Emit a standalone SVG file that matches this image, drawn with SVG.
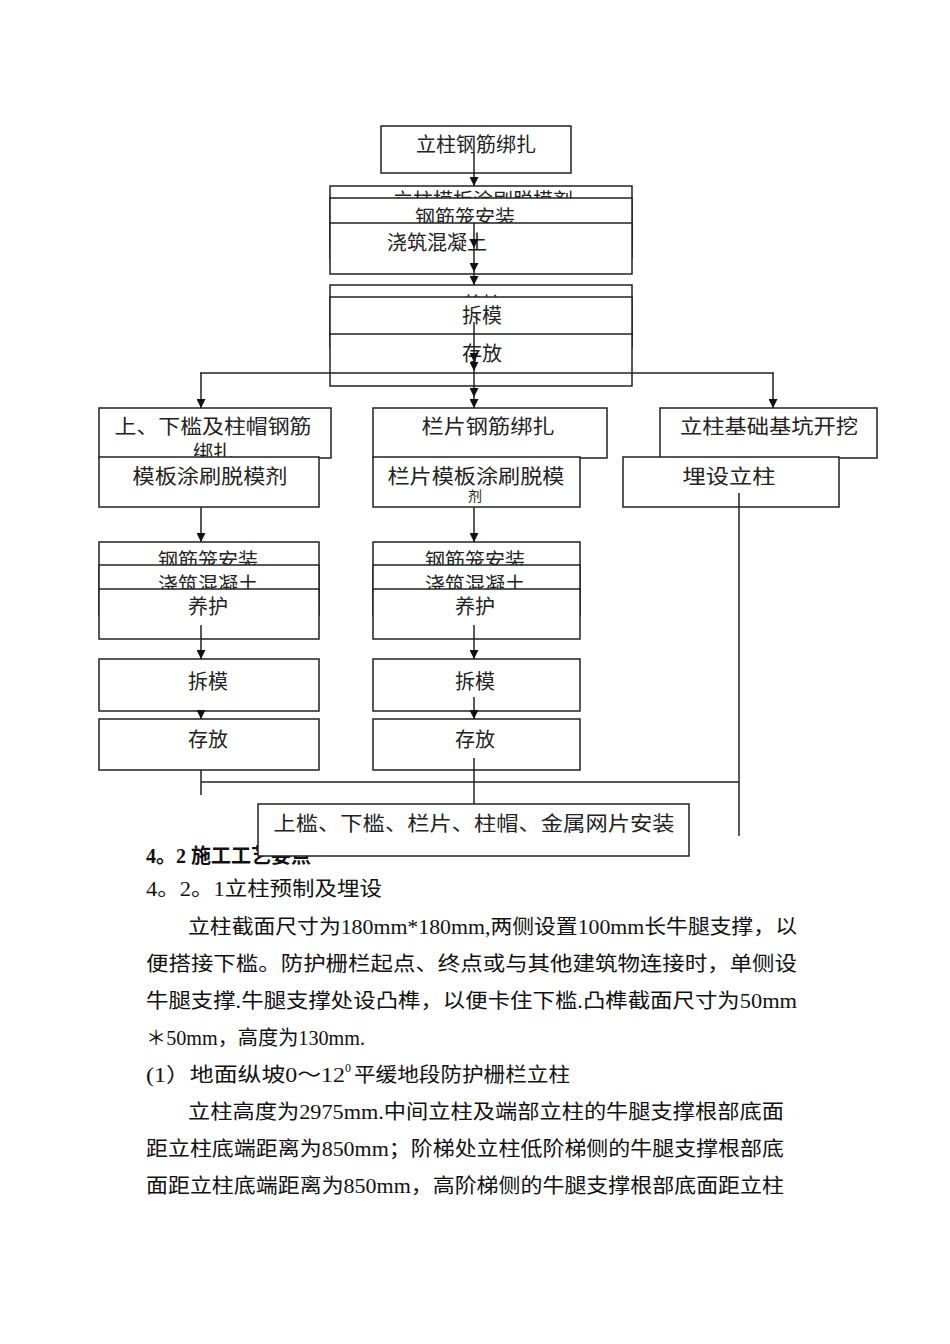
<svg xmlns="http://www.w3.org/2000/svg" width="950" height="1344" viewBox="0 0 950 1344">
<style>
.box{fill:#fff;stroke:#222;stroke-width:1.5}
.t{font-family:"Noto Sans CJK SC","Liberation Sans",sans-serif;font-size:20px;fill:#222;text-anchor:middle}
.ts{font-family:"Noto Sans CJK SC","Liberation Sans",sans-serif;font-size:14px;fill:#222;text-anchor:middle}
.b{font-family:"Liberation Serif","Noto Sans CJK SC",serif;font-size:20px;fill:#111}
.h{font-family:"Liberation Serif","Noto Sans CJK SC",serif;font-size:20px;font-weight:bold;fill:#111}
.c{fill:none;stroke:#222;stroke-width:1.5}
</style>
<defs>
<marker id="ah" viewBox="0 0 10 10" refX="10" refY="5" markerWidth="9" markerHeight="9" markerUnits="userSpaceOnUse" orient="auto">
<path d="M0,0 L10,5 L0,10 z" fill="#111"/>
</marker>
</defs>

<text class="h" x="146" y="863">4。2 施工工艺要点</text>

<g id="n1"><rect class="box" x="381" y="126" width="190" height="47"/><text class="t" x="476" y="152">立柱钢筋绑扎</text></g>
<g id="n2"><rect class="box" x="330" y="186" width="302" height="60"/><text class="t" x="483" y="208">立柱模板涂刷脱模剂</text></g>
<g id="n3"><rect class="box" x="330" y="198" width="302" height="60"/><text class="t" x="465" y="225">钢筋笼安装</text></g>
<g id="n4"><rect class="box" x="330" y="223" width="302" height="51"/><text class="t" x="437" y="250">浇筑混凝土</text></g>

<g id="n5"><rect class="box" x="330" y="285" width="302" height="50"/><text class="t" x="482" y="312">养护</text></g>
<g id="n6"><rect class="box" x="330" y="297" width="302" height="50"/><text class="t" x="482" y="323">拆模</text></g>
<g id="n7"><rect class="box" x="330" y="334" width="302" height="52"/><text class="t" x="482" y="361">存放</text></g>

<g id="n8"><rect class="box" x="99" y="408" width="232" height="50"/><text class="t" x="213" y="434" textLength="197" lengthAdjust="spacingAndGlyphs">上、下槛及柱帽钢筋</text><text class="t" x="213" y="460">绑扎</text></g>
<g id="n9"><rect class="box" x="99" y="457" width="220" height="50"/><text class="t" x="210" y="484" textLength="155" lengthAdjust="spacingAndGlyphs">模板涂刷脱模剂</text></g>
<g id="n10"><rect class="box" x="373" y="408" width="234" height="50"/><text class="t" x="488" y="434" textLength="133" lengthAdjust="spacingAndGlyphs">栏片钢筋绑扎</text></g>
<g id="n11"><rect class="box" x="373" y="457" width="207" height="50"/><text class="t" x="476" y="484" textLength="177" lengthAdjust="spacingAndGlyphs">栏片模板涂刷脱模</text><text class="ts" x="475" y="501">剂</text></g>
<g id="n12"><rect class="box" x="660" y="408" width="217" height="50"/><text class="t" x="769" y="434" textLength="178" lengthAdjust="spacingAndGlyphs">立柱基础基坑开挖</text></g>
<g id="n13"><rect class="box" x="623" y="457" width="216" height="50"/><text class="t" x="729" y="484" textLength="93" lengthAdjust="spacingAndGlyphs">埋设立柱</text></g>

<g id="n14"><rect class="box" x="99" y="542" width="220" height="50"/><text class="t" x="208" y="568">钢筋笼安装</text></g>
<g id="n15"><rect class="box" x="99" y="565" width="220" height="50"/><text class="t" x="208" y="592">浇筑混凝土</text></g>
<g id="n16"><rect class="box" x="99" y="589" width="220" height="50"/><text class="t" x="208" y="614">养护</text></g>
<g id="n17"><rect class="box" x="373" y="542" width="207" height="50"/><text class="t" x="475" y="568">钢筋笼安装</text></g>
<g id="n18"><rect class="box" x="373" y="565" width="207" height="50"/><text class="t" x="475" y="592">浇筑混凝土</text></g>
<g id="n19"><rect class="box" x="373" y="589" width="207" height="50"/><text class="t" x="475" y="614">养护</text></g>

<g id="n20"><rect class="box" x="99" y="659" width="220" height="52"/><text class="t" x="208" y="689">拆模</text></g>
<g id="n21"><rect class="box" x="99" y="719" width="220" height="51"/><text class="t" x="208" y="747">存放</text></g>
<g id="n22"><rect class="box" x="373" y="659" width="207" height="52"/><text class="t" x="475" y="689">拆模</text></g>
<g id="n23"><rect class="box" x="373" y="719" width="207" height="51"/><text class="t" x="475" y="747">存放</text></g>

<g id="n24"><rect class="box" x="258" y="804" width="431" height="52"/><text class="t" x="474" y="831" textLength="401" lengthAdjust="spacingAndGlyphs">上槛、下槛、栏片、柱帽、金属网片安装</text></g>

<g id="connectors">
<path class="c" d="M474,152 V186" marker-end="url(#ah)"/>
<path class="c" d="M474,223 V248" marker-end="url(#ah)"/>
<path class="c" d="M474,248 V272" marker-end="url(#ah)"/>
<path class="c" d="M474,272 V285" marker-end="url(#ah)"/>
<path class="c" d="M474,322 V362" marker-end="url(#ah)"/>
<path class="c" d="M474,362 V371" marker-end="url(#ah)"/>
<path class="c" d="M474,371 V397" marker-end="url(#ah)"/>
<path class="c" d="M474,397 V408" marker-end="url(#ah)"/>
<path class="c" d="M200,373 H774"/>
<path class="c" d="M201,373 V408" marker-end="url(#ah)"/>
<path class="c" d="M773,373 V408" marker-end="url(#ah)"/>
<path class="c" d="M201,507 V542" marker-end="url(#ah)"/>
<path class="c" d="M474,507 V542" marker-end="url(#ah)"/>
<path class="c" d="M201,625 V659" marker-end="url(#ah)"/>
<path class="c" d="M474,625 V659" marker-end="url(#ah)"/>
<path class="c" d="M201,711 V719" marker-end="url(#ah)"/>
<path class="c" d="M474,697 V719" marker-end="url(#ah)"/>
<path class="c" d="M201,770 V795"/>
<path class="c" d="M474,758 V804"/>
<path class="c" d="M201,782 H739"/>
<path class="c" d="M739,493 V836"/>
</g>

<text class="b" x="146" y="896" textLength="236" lengthAdjust="spacingAndGlyphs">4。2。1立柱预制及埋设</text>
<text class="b" x="188" y="934" textLength="609" lengthAdjust="spacingAndGlyphs">立柱截面尺寸为180mm*180mm,两侧设置100mm长牛腿支撑，以</text>
<text class="b" x="146" y="971" textLength="651" lengthAdjust="spacingAndGlyphs">便搭接下槛。防护栅栏起点、终点或与其他建筑物连接时，单侧设</text>
<text class="b" x="146" y="1008" textLength="651" lengthAdjust="spacingAndGlyphs">牛腿支撑.牛腿支撑处设凸榫，以便卡住下槛.凸榫截面尺寸为50mm</text>
<text class="b" x="146" y="1045" textLength="219" lengthAdjust="spacingAndGlyphs">＊50mm，高度为130mm.</text>
<text class="b" x="146" y="1082" textLength="199" lengthAdjust="spacingAndGlyphs">(1）地面纵坡0～12</text>
<text class="b" x="345" y="1072" font-size="12" style="font-size:12px">0</text>
<text class="b" x="354" y="1082" textLength="216" lengthAdjust="spacingAndGlyphs">平缓地段防护栅栏立柱</text>
<text class="b" x="188" y="1119" textLength="596" lengthAdjust="spacingAndGlyphs">立柱高度为2975mm.中间立柱及端部立柱的牛腿支撑根部底面</text>
<text class="b" x="146" y="1156" textLength="638" lengthAdjust="spacingAndGlyphs">距立柱底端距离为850mm；阶梯处立柱低阶梯侧的牛腿支撑根部底</text>
<text class="b" x="146" y="1193" textLength="638" lengthAdjust="spacingAndGlyphs">面距立柱底端距离为850mm，高阶梯侧的牛腿支撑根部底面距立柱</text>
</svg>
